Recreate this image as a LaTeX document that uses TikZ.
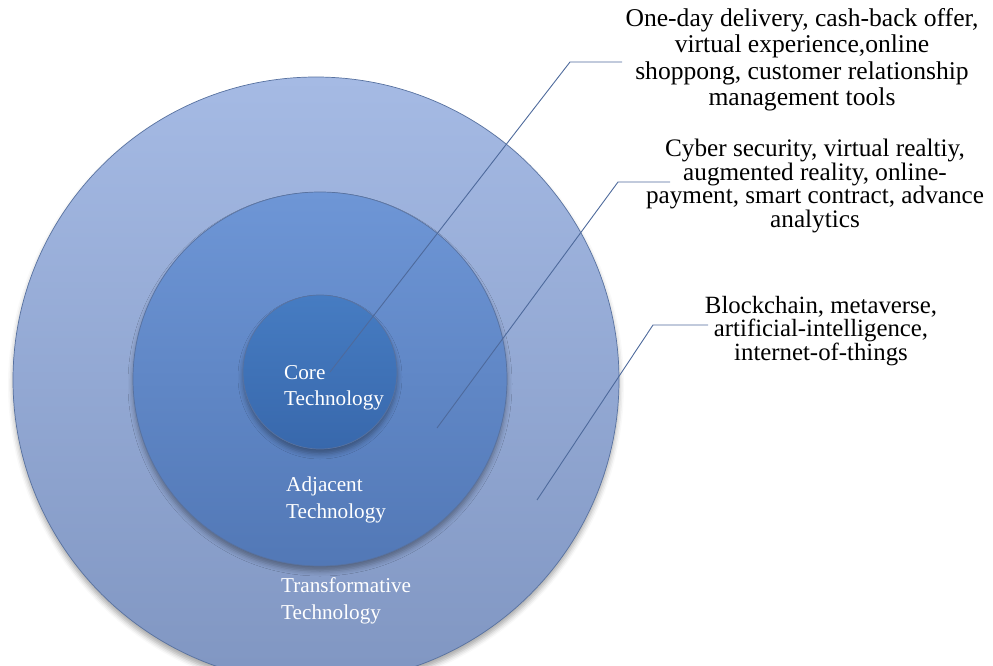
\documentclass[tikz,border=0pt]{standalone}
\usepackage{fontspec}
\setmainfont{Liberation Serif}
\usetikzlibrary{shadows.blur}
\definecolor{outerTop}{RGB}{165,186,228}
\definecolor{outerBot}{RGB}{128,150,194}
\definecolor{midTop}{RGB}{110,150,214}
\definecolor{midBot}{RGB}{82,120,182}
\definecolor{inTop}{RGB}{70,124,194}
\definecolor{inBot}{RGB}{56,104,172}
\definecolor{ringEdge}{RGB}{88,114,160}
\definecolor{leadCol}{RGB}{78,106,156}
\tikzset{
  ring/.style={circle, inner sep=0pt, draw=ringEdge, line width=0.7pt,
    blur shadow={shadow xshift=0pt, shadow yshift=-5pt, shadow blur radius=5pt, shadow opacity=35}},
  lead/.style={draw=leadCol, line width=0.9pt},
  blka/.style={align=center, font=\fontsize{25.6}{26.5}\selectfont, text=black, inner sep=0pt},
  blkb/.style={align=center, font=\fontsize{25.2}{23.6}\selectfont, text=black, inner sep=0pt},
  blkc/.style={align=center, font=\fontsize{24.8}{23.6}\selectfont, text=black, inner sep=0pt},
  wht/.style={align=left, font=\fontsize{21.2}{26.5}\selectfont, text=white, inner sep=0pt, anchor=west},
}
\begin{document}
\begin{tikzpicture}[x=1pt,y=-1pt]
\useasboundingbox (0,0) rectangle (993,666);
\begin{scope}
\clip (0,0) rectangle (993,666);
\node[ring, minimum size=606pt, top color=outerTop, bottom color=outerBot] (outer) at (316,380) {};
\node[ring, minimum size=374pt, top color=midTop, bottom color=midBot] (mid) at (320,379) {};
\node[ring, minimum size=154pt, top color=inTop, bottom color=inBot] (inner) at (320,372) {};
\end{scope}

\coordinate (c1s) at (330,372);
\coordinate (c1k) at (570,62);
\coordinate (c1e) at (622,62);
\coordinate (c2s) at (437,428);
\coordinate (c2k) at (618,182);
\coordinate (c2e) at (670,182);
\coordinate (c3s) at (537,500);
\coordinate (c3k) at (653,325);
\coordinate (c3e) at (708,325);

\draw[lead] (c1s) -- (c1k) -- (c1e);
\draw[lead] (c2s) -- (c2k) -- (c2e);
\draw[lead] (c3s) -- (c3k) -- (c3e);

\node[wht] (corelbl) at (284,388) {Core\\Technology};
\node[wht] (adjlbl) at (286,500) {Adjacent\\Technology};
\node[wht] (translbl) at (281,601) {Transformative\\Technology};

\node[blka] (t1) at (802,60) {One-day delivery, cash-back offer,\\virtual experience,online\\shoppong, customer relationship\\management tools};
\node[blkb] (t2) at (815,186) {Cyber security, virtual realtiy,\\augmented reality, online-\\payment, smart contract, advance\\analytics};
\node[blkc] (t3) at (821,331) {Blockchain, metaverse,\\artificial-intelligence,\\internet-of-things};
\end{tikzpicture}
\end{document}
